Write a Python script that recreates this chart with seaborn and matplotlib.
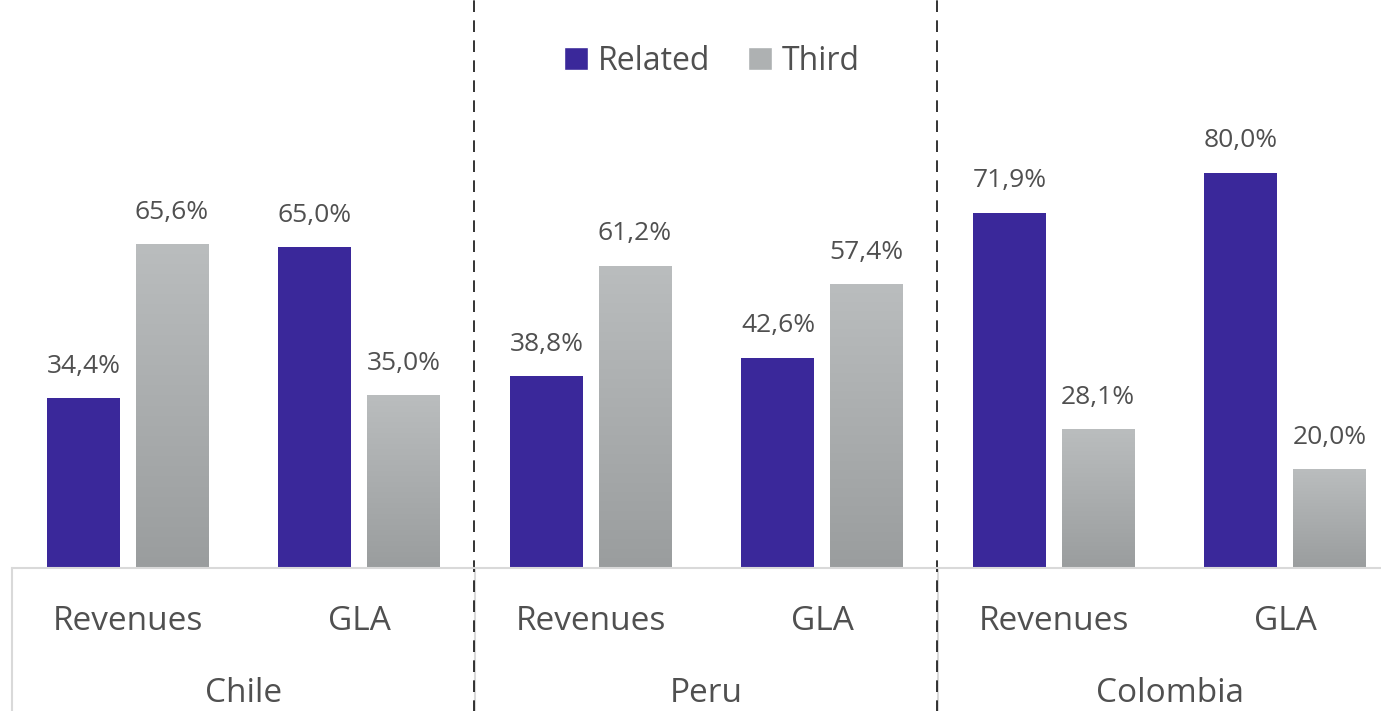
import numpy as np
import pandas as pd
import matplotlib
matplotlib.use("Agg")
import matplotlib.pyplot as plt
import seaborn as sns
from matplotlib.colors import LinearSegmentedColormap
from matplotlib.transforms import blended_transform_factory
from matplotlib.patches import Patch

countries = ["Chile", "Peru", "Colombia"]
metrics = ["Revenues", "GLA"]
series = ["Related", "Third"]
related = [34.4, 65.0, 38.8, 42.6, 71.9, 80.0]
third = [65.6, 35.0, 61.2, 57.4, 28.1, 20.0]
value_labels_related = ["34,4%", "65,0%", "38,8%", "42,6%", "71,9%", "80,0%"]
value_labels_third = ["65,6%", "35,0%", "61,2%", "57,4%", "28,1%", "20,0%"]

keys = [f"{c}|{m}" for c in countries for m in metrics]
df = pd.DataFrame({
    "key": keys * 2,
    "series": ["Related"] * 6 + ["Third"] * 6,
    "value": related + third,
})

sns.set_theme(style="white")
FONT = ["Open Sans", "DejaVu Sans"]
plt.rcParams["font.family"] = FONT
TXT = "#505050"
PURPLE = "#3A289A"

fig = plt.figure(figsize=(13.81, 7.11), dpi=100)
ax = fig.add_axes([12 / 1381, (711 - 568) / 711, 1389 / 1381, 568 / 711])

sns.barplot(data=df, x="key", y="value", hue="series", order=keys,
            hue_order=series, palette=[PURPLE, "#AEB1B2"], width=0.765,
            gap=0.176, ax=ax, legend=False, saturation=1, edgecolor="none")

ax.set_xlim(-0.5, 5.5)
ax.set_ylim(0, 115)

# gradient on Third bars
cmap = LinearSegmentedColormap.from_list("g", ["#9A9D9E", "#BABDBE"])
grad = np.linspace(0, 1, 256).reshape(-1, 1)
for p in ax.containers[1]:
    x0, y0 = p.get_x(), p.get_y()
    w, h = p.get_width(), p.get_height()
    im = ax.imshow(grad, extent=[x0, x0 + w, y0, y0 + h], origin="lower",
                   aspect="auto", cmap=cmap, zorder=p.get_zorder() + 0.1)
    im.set_clip_path(p)
ax.set_xlim(-0.5, 5.5)
ax.set_ylim(0, 115)

# value labels
for cont, labs in zip(ax.containers, [value_labels_related, value_labels_third]):
    for p, lab in zip(cont, labs):
        ax.annotate(lab, (p.get_x() + p.get_width() / 2, p.get_height()),
                    xytext=(0, 23), textcoords="offset points",
                    ha="center", va="center", fontsize=19, color=TXT)

# axes styling
for s in ["top", "right", "left"]:
    ax.spines[s].set_visible(False)
ax.spines["bottom"].set_color("#D9D9D9")
ax.spines["bottom"].set_linewidth(1.5)
ax.set_xticks([])
ax.set_yticks([])
ax.set_xlabel("")
ax.set_ylabel("")

bt = blended_transform_factory(ax.transData, fig.transFigure)
ba = blended_transform_factory(ax.transData, ax.transAxes)
for i, k in enumerate(keys):
    ax.text(i, 1 - 622 / 711, k.split("|")[1], transform=bt, ha="center",
            va="center", fontsize=24, color=TXT)
for j, c in enumerate(countries):
    ax.text(2 * j + 0.5, 1 - 694 / 711, c, transform=bt, ha="center",
            va="center", fontsize=24, color=TXT)

# separators
for xv in [-0.5, 1.5, 3.5]:
    ax.plot([xv, xv], [0, -0.3], transform=ba, color="#D9D9D9", lw=1.5,
            clip_on=False)
for xv in [1.5, 3.5]:
    ax.plot([xv - 0.004, xv - 0.004], [-0.3, 1.0], transform=ba, color="#111111",
            lw=1.2, ls=(0, (7, 5)), clip_on=False)

handles = [Patch(facecolor=PURPLE), Patch(facecolor="#AEB1B2")]
leg = ax.legend(handles, series, loc="center", bbox_to_anchor=(712 / 1381, 1 - 61 / 711),
                bbox_transform=fig.transFigure, ncol=2, frameon=False,
                fontsize=23, handlelength=0.75, handleheight=0.75,
                handletextpad=0.3, columnspacing=1.2)
for t in leg.get_texts():
    t.set_color(TXT)

fig.savefig("out.png", dpi=100)
